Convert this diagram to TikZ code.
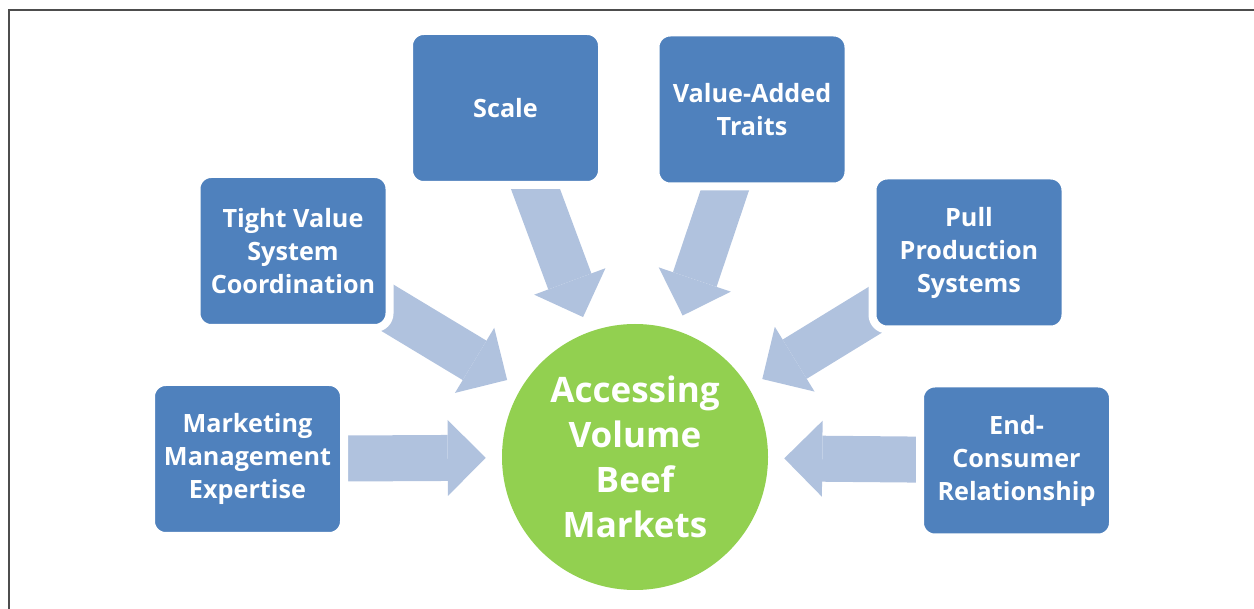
\documentclass[tikz,border=0pt]{standalone}
\usepackage{fontspec}
\setmainfont{Open Sans}
\usetikzlibrary{arrows.meta,backgrounds}

\begin{document}
\begin{tikzpicture}[x=0.75pt,y=0.75pt,yscale=-1,xscale=1,
  topic/.style={draw=white, line width=6pt, rounded corners=11pt, fill={rgb, 255:red, 79; green, 129; blue, 189}, text=white, font=\fontsize{18.9}{24.75}\selectfont\bfseries, align=center, minimum width=144.75pt, minimum height=115.5pt, inner sep=0pt},
  hubnode/.style={circle, fill={rgb, 255:red, 146; green, 208; blue, 80}, text=white, font=\fontsize{26.3}{33.75}\selectfont\bfseries, align=center, minimum size=199.5pt, inner sep=0pt},
  feed/.style={draw={rgb, 255:red, 176; green, 194; blue, 222}, line width=34.5pt, -{Triangle[length=28.5pt, width=57pt, line width=0pt]}, shorten <=-15pt, shorten >=12pt}
  ]
\useasboundingbox (0,0) rectangle (1254,609);

%Frame
\draw [color={rgb, 255:red, 77; green, 77; blue, 77}, line width=1.5] (9,609) -- (9,10) -- (1254,10) ;

%Centre circle
\node [hubnode] (hub) at (635,457) {Accessing\\Volume\\Beef\\Markets};

%Boxes
\node [topic] (scale) at (505.5,108) {Scale};
\node [topic] (valueadded) at (752,109.5) {Value-Added\\Traits};
\node [topic] (tight) at (293,251) {Tight Value\\System\\Coordination};
\node [topic] (pull) at (969,252.5) {Pull\\Production\\Systems};
\node [topic] (marketing) at (247.5,459) {Marketing\\Management\\Expertise};
\node [topic] (endconsumer) at (1016.5,460.5) {End-\\Consumer\\Relationship};

%Block arrows
\begin{pgfonlayer}{background}
\draw [feed] (scale) -- (hub);
\draw [feed] (valueadded) -- (hub);
\draw [feed] (tight) -- (hub);
\draw [feed] (pull) -- (hub);
\draw [feed] (marketing) -- (hub);
\draw [feed] (endconsumer) -- (hub);
\end{pgfonlayer}
\end{tikzpicture}
\end{document}
